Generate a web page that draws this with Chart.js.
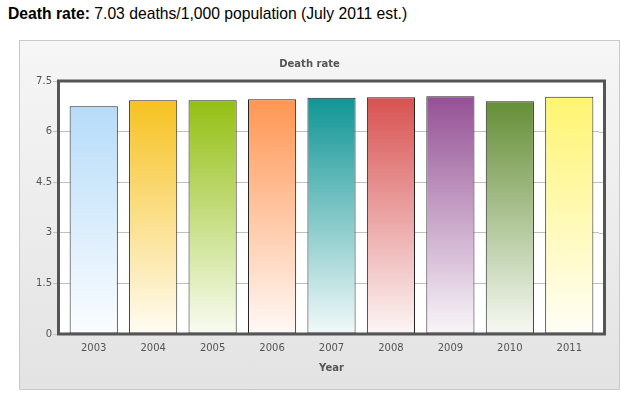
<!DOCTYPE html>
<html>
<head>
<meta charset="utf-8">
<script src="https://cdn.jsdelivr.net/npm/chart.js@4"></script>
<style>
  body { margin: 0; background: #fff; width: 628px; height: 396px; overflow: hidden; }
  #header { position: absolute; left: 8px; top: 5px; font: 15.7px "Liberation Sans", Arial, sans-serif; color: #000; }
  #header b { font-weight: bold; }
  #panel { position: absolute; left: 19px; top: 40px; width: 599px; height: 348px;
           border: 1px solid #c9c9c9; background: linear-gradient(#f6f6f6, #e3e3e3); }
  #chart { position: absolute; left: 0; top: 0; }
</style>
</head>
<body>
<div id="header"><b>Death rate:</b> 7.03 deaths/1,000 population (July 2011 est.)</div>
<div id="panel"><canvas id="chart" width="599" height="348"></canvas></div>
<script>
// données
const years = ['2003', '2004', '2005', '2006', '2007', '2008', '2009', '2010', '2011'];
const deathRates = [6.75, 6.93, 6.93, 6.96, 7.0, 7.02, 7.05, 6.9, 7.03];
const barColors = ['#AFD8F8', '#F6BD0F', '#8BBA00', '#FF8E46', '#008E8E', '#D64646', '#8E468E', '#588526', '#FFF467'];
const yTicks = [0, 1.5, 3, 4.5, 6, 7.5];

const tickFont = { family: 'DejaVu Sans', size: 10 };
const inset = 5.5; // marge intérieure entre le cadre et la première/dernière barre

function lighten(hex, amt) {
    const n = parseInt(hex.slice(1), 16);
    const r = (n >> 16) & 255, g = (n >> 8) & 255, b = n & 255;
    const f = c => Math.round(c + (255 - c) * amt);
    return `rgb(${f(r)},${f(g)},${f(b)})`;
}

// cadre autour de la zone de tracé
const frame = {
    id: 'frame',
    beforeDraw(chart) {
        const a = chart.chartArea, ctx = chart.ctx;
        ctx.save();
        ctx.fillStyle = '#fff';
        ctx.fillRect(a.left - inset, a.top, a.right - a.left + 2 * inset, a.bottom - a.top);
        ctx.restore();
    },
    beforeDatasetsDraw(chart) {
        // prolonge les lignes de grille jusqu'au bord droit du cadre
        const a = chart.chartArea, ctx = chart.ctx, y = chart.scales.y;
        ctx.save();
        ctx.strokeStyle = '#c0c0c0';
        ctx.lineWidth = 1;
        y.ticks.forEach(t => {
            const py = Math.round(y.getPixelForValue(t.value)) + 0.5;
            ctx.beginPath();
            ctx.moveTo(a.right, py);
            ctx.lineTo(a.right + inset - 1, py);
            ctx.stroke();
        });
        ctx.restore();
    },
    afterDraw(chart) {
        const a = chart.chartArea, ctx = chart.ctx;
        ctx.save();
        ctx.strokeStyle = '#555';
        ctx.lineWidth = 3;
        ctx.strokeRect(a.left - inset, a.top, a.right - a.left + 2 * inset, a.bottom - a.top);
        ctx.restore();
    }
};

const ctx = document.getElementById('chart').getContext('2d');
new Chart(ctx, {
    type: 'bar',
    data: {
        labels: years,
        datasets: [{
            label: 'Death rate',
            data: deathRates,
            backgroundColor: c => {
                const a = c.chart.chartArea;
                if (!a) return barColors[c.dataIndex];
                const g = c.chart.ctx.createLinearGradient(0, a.top, 0, a.bottom);
                g.addColorStop(0, barColors[c.dataIndex]);
                g.addColorStop(1, lighten(barColors[c.dataIndex], 0.95));
                return g;
            },
            borderColor: '#222',
            borderWidth: 1,
            borderSkipped: false,
            categoryPercentage: 0.81,
            barPercentage: 1
        }]
    },
    options: {
        responsive: false,
        animation: false,
        layout: { padding: { left: 0, right: 20, bottom: 15 } },
        plugins: {
            legend: { display: false },
            tooltip: { enabled: false },
            title: {
                display: true,
                text: 'Death rate',
                color: '#555',
                font: { family: 'DejaVu Sans', size: 10, weight: 'bold' },
                padding: { top: 17, bottom: 11 }
            }
        },
        scales: {
            x: {
                afterFit: s => { s.height = 40; },
                grid: { display: false, drawTicks: false },
                border: { display: false },
                ticks: { color: '#555', font: tickFont, padding: 8 },
                title: {
                    display: true, text: 'Year', color: '#555',
                    font: { family: 'DejaVu Sans', size: 10, weight: 'bold' },
                    padding: { top: 0, bottom: 0 }
                }
            },
            y: {
                min: 0,
                max: 7.5,
                afterFit: s => { s.width = 44; },
                afterBuildTicks: s => { s.ticks = yTicks.map(v => ({ value: v })); },
                grid: { color: '#c0c0c0', tickLength: 11, drawOnChartArea: true },
                border: { display: false },
                ticks: { color: '#555', font: tickFont, padding: 1 }
            }
        }
    },
    plugins: [frame]
});
</script>
</body>
</html>
